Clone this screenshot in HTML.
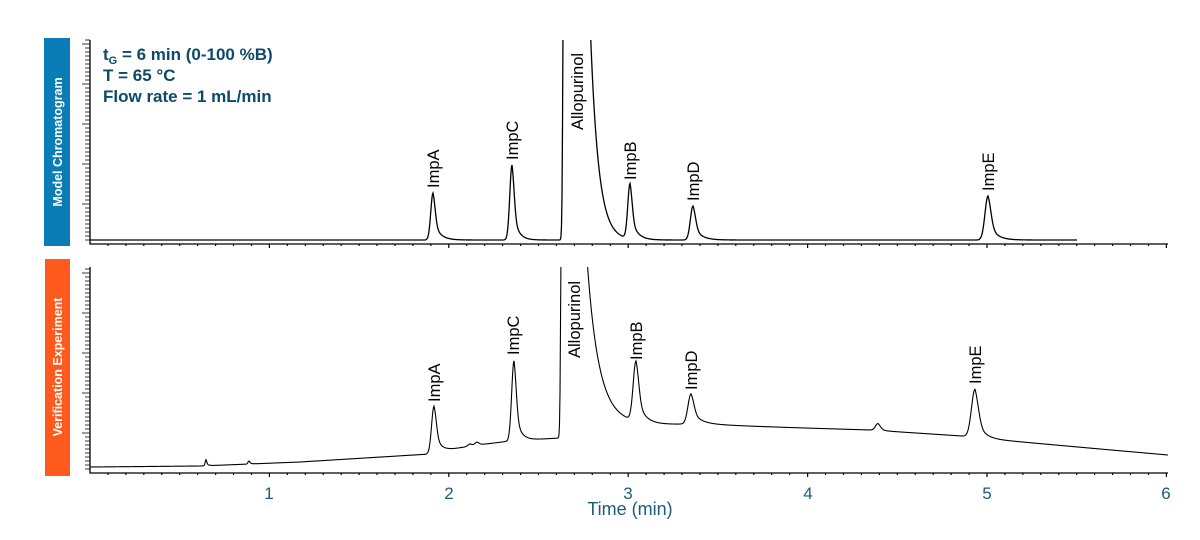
<!DOCTYPE html>
<html><head><meta charset="utf-8"><style>
html,body{margin:0;padding:0;background:#fff;}
svg{display:block;font-family:"Liberation Sans",Arial,sans-serif;}
</style></head><body>
<svg id="s" width="1200" height="540" viewBox="0 0 1200 540" xmlns="http://www.w3.org/2000/svg">
<defs>
<clipPath id="c1"><rect x="90" y="40" width="1080" height="210"/></clipPath>
<clipPath id="c2"><rect x="90" y="267" width="1080" height="210"/></clipPath>
</defs>
<rect x="44" y="38" width="26" height="208" fill="#0a7cb6"/>
<text transform="translate(62,142) rotate(-90)" text-anchor="middle" font-size="12.5" font-weight="bold" fill="#fff">Model Chromatogram</text>
<rect x="45" y="259" width="25" height="217" fill="#ff5a1e"/>
<text transform="translate(62,367) rotate(-90)" text-anchor="middle" font-size="12.5" font-weight="bold" fill="#fff">Verification Experiment</text>
<g id="axes" stroke="#000" fill="none"></g>
<path id="p1" fill="none" stroke="#000" stroke-width="1.3" clip-path="url(#c1)"/>
<path id="p2" fill="none" stroke="#000" stroke-width="1.1" clip-path="url(#c2)"/>
<g fill="#0d4a6a" font-weight="bold" font-size="17">
<text x="103" y="60">t<tspan font-size="11" dy="4">G</tspan><tspan dy="-4"> = 6 min (0-100 %B)</tspan></text>
<text x="103" y="81">T = 65 °C</text>
<text x="103" y="102">Flow rate = 1 mL/min</text>
</g>
<g font-size="16.5" fill="#000">
<text transform="translate(439,188) rotate(-90)">ImpA</text>
<text transform="translate(518,160) rotate(-90)">ImpC</text>
<text transform="translate(583,130) rotate(-90)">Allopurinol</text>
<text transform="translate(636,180) rotate(-90)">ImpB</text>
<text transform="translate(699,201) rotate(-90)">ImpD</text>
<text transform="translate(994,191) rotate(-90)">ImpE</text>
<text transform="translate(440,402) rotate(-90)">ImpA</text>
<text transform="translate(519,355) rotate(-90)">ImpC</text>
<text transform="translate(580,358) rotate(-90)">Allopurinol</text>
<text transform="translate(642,360) rotate(-90)">ImpB</text>
<text transform="translate(697,390) rotate(-90)">ImpD</text>
<text transform="translate(981,384) rotate(-90)">ImpE</text>
</g>
<g font-size="17" fill="#1d5b7a" text-anchor="middle">
<text x="269" y="499">1</text><text x="449" y="499">2</text><text x="628" y="499">3</text>
<text x="808" y="499">4</text><text x="987" y="499">5</text><text x="1166" y="499">6</text>
<text x="630" y="515" font-size="18">Time (min)</text>
</g>
</svg>
<script>
var X=function(t){return 90+t*179.4;};
function pk(x,c,h,s,tau){var d=x-c;if(d<0)return h*Math.exp(-d*d/(2*s*s));
return h*(0.55*Math.exp(-d*d/(2*s*s))+0.45*Math.exp(-d/tau));}
function allo(x,l,r,h,tau){if(x<l)return 1000*Math.exp(-(x-l)*(x-l)/(2*1.2*1.2));if(x<=r)return 1000;return h*Math.exp(-(x-r)/tau);}
var P1=[[433,47,2.2,6],[512,75,2.2,5],[630,55,2.2,6],[693,34,2.6,7],[988,44,3,7]];
var d1="";for(var x=90;x<=1077;x+=0.5){var y=240-allo(x,565,589,250,8);P1.forEach(function(p){y-=pk(x,p[0],p[1],p[2],p[3]);});
d1+=(d1?"L":"M")+x+","+Math.max(y,30).toFixed(2);}
document.getElementById("p1").setAttribute("d",d1);
function base(x){var pts=[[90,467],[200,466],[300,462],[430,454],[470,446],[510,441],[560,438],[600,432],[700,425],[870,430],[962,436],[1000,440],[1100,449],[1168,455]];
for(var i=0;i<pts.length-1;i++){if(x<=pts[i+1][0]){var a=pts[i],b=pts[i+1];return a[1]+(b[1]-a[1])*(x-a[0])/(b[0]-a[0]);}}return 455;}
var P2=[[434,47,2.4,6],[514,80,2.3,5],[636,60,2.8,7],[691,30,3,8],[878,7,2.5,4],[975,48,3.5,7],[206,6,0.8,2],[249,3,1,2],[477,3,2,3],[470,2,2,3]];
var d2="";for(var x=90;x<=1168;x+=0.5){var y=base(x)-allo(x,563,584,200,11)-(x>584?25*Math.exp(-(x-584)/40):0);P2.forEach(function(p){y-=pk(x,p[0],p[1],p[2],p[3]);});
d2+=(d2?"L":"M")+x+","+Math.max(y,255).toFixed(2);}
document.getElementById("p2").setAttribute("d",d2);
var g="";
[[40,244],[267,473]].forEach(function(r){var top=r[0],ax=r[1];
g+='<path d="M90,'+top+'V'+ax+'H1168" stroke-width="1.3"/>';
for(var y=ax-4;y>=top;y-=4){var big=((ax-y)%40==0);g+='<path d="M'+(big?82:85)+','+y+'H90" stroke-width="0.8"/>';}
for(var i=1;i<=60;i++){var x=X(i/10);var big=(i%10==0);g+='<path d="M'+x.toFixed(1)+','+ax+'v'+(big?4:2)+'" stroke-width="1.2"/>';}
});
document.getElementById("axes").innerHTML=g;
</script>
</body></html>
